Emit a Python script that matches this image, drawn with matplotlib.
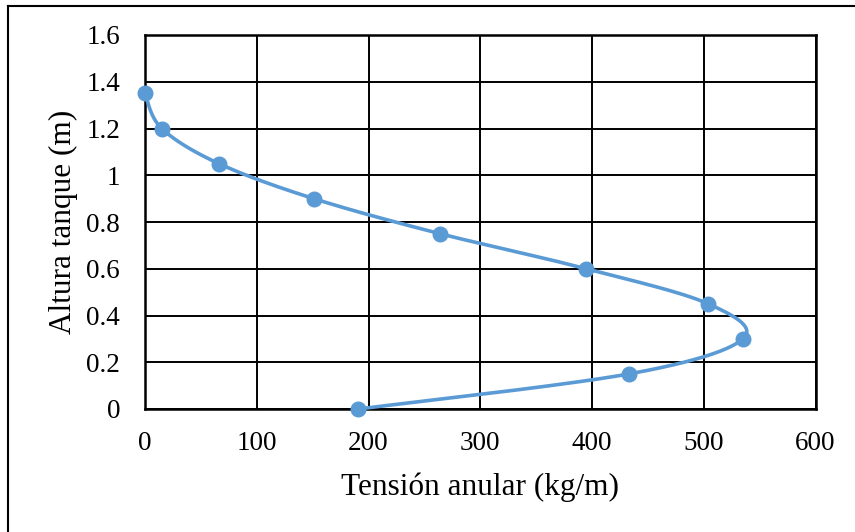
import numpy as np
import matplotlib
matplotlib.use("Agg")
import matplotlib.pyplot as plt
from matplotlib.lines import Line2D

plt.rcParams['font.family'] = ['Liberation Serif', 'DejaVu Serif']

# Hoop tension along the tank height
tension = [191, 433, 535, 504, 395, 264, 151, 66, 15, 0]
altura = [0.0, 0.15, 0.30, 0.45, 0.60, 0.75, 0.90, 1.05, 1.20, 1.35]

x_ticks = [0, 100, 200, 300, 400, 500, 600]
y_ticks = [0, 0.2, 0.4, 0.6, 0.8, 1.0, 1.2, 1.4, 1.6]
y_tick_labels = ['0', '0.2', '0.4', '0.6', '0.8', '1', '1.2', '1.4', '1.6']

XLIM = (0, 600)
YLIM = (0, 1.6)


def smooth_curve(xs, ys, sx, sy, n=40):
    """Cubic Bezier smoothing through points (Catmull-Rom tangents),
    computed in axis-scaled space so the curve looks even on screen."""
    P = np.column_stack([np.asarray(xs) / sx, np.asarray(ys) / sy])
    m = len(P)
    out = []
    for i in range(m - 1):
        p0 = P[i - 1] if i > 0 else P[i]
        p1 = P[i]
        p2 = P[i + 1]
        p3 = P[i + 2] if i + 2 < m else P[i + 1]
        c1 = p1 + (p2 - p0) / 6.0
        c2 = p2 - (p3 - p1) / 6.0
        t = np.linspace(0, 1, n)[:, None]
        seg = ((1 - t) ** 3) * p1 + 3 * ((1 - t) ** 2) * t * c1 \
            + 3 * (1 - t) * t ** 2 * c2 + t ** 3 * p2
        out.append(seg if i == 0 else seg[1:])
    C = np.vstack(out)
    return C[:, 0] * sx, C[:, 1] * sy


fig = plt.figure(figsize=(8.55, 5.32), dpi=100)
ax = fig.add_axes([145 / 855, 1 - 409 / 532, (815.5 - 145) / 855, (409 - 35) / 532])

color = '#5B9BD5'
# axis scaling: pixel width/height of the plot area
sx = (XLIM[1] - XLIM[0]) / 670.0
sy = (YLIM[1] - YLIM[0]) / 374.0
cx, cy = smooth_curve(tension, altura, sx, sy)
ax.plot(cx, cy, color=color, lw=2.6, zorder=3, clip_on=False, solid_capstyle='round')
ax.plot(tension, altura, 'o', color=color, ms=10.5, zorder=4, clip_on=False)

ax.set_xlim(*XLIM)
ax.set_ylim(*YLIM)
ax.set_xticks(x_ticks)
ax.set_yticks(y_ticks)
ax.set_yticklabels(y_tick_labels)
ax.grid(True, color='black', lw=1.4)
ax.set_axisbelow(True)
for s in ax.spines.values():
    s.set_linewidth(1.8)
    s.set_color('black')
ax.tick_params(length=0, labelsize=19.5, pad=16)
ax.tick_params(axis='y', pad=18)

ax.set_xlabel('Tensión anular (kg/m)', fontsize=22.5, labelpad=12)
ax.set_ylabel('Altura tanque (m)', fontsize=22.5, labelpad=6)

# chart frame (top and left edges)
fig.add_artist(Line2D([8 / 855, 8 / 855], [0, 1 - 6 / 532], transform=fig.transFigure,
                      color='black', lw=1.5))
fig.add_artist(Line2D([8 / 855, 1], [1 - 6 / 532, 1 - 6 / 532], transform=fig.transFigure,
                      color='black', lw=1.5))

fig.savefig('out.png', dpi=100)
